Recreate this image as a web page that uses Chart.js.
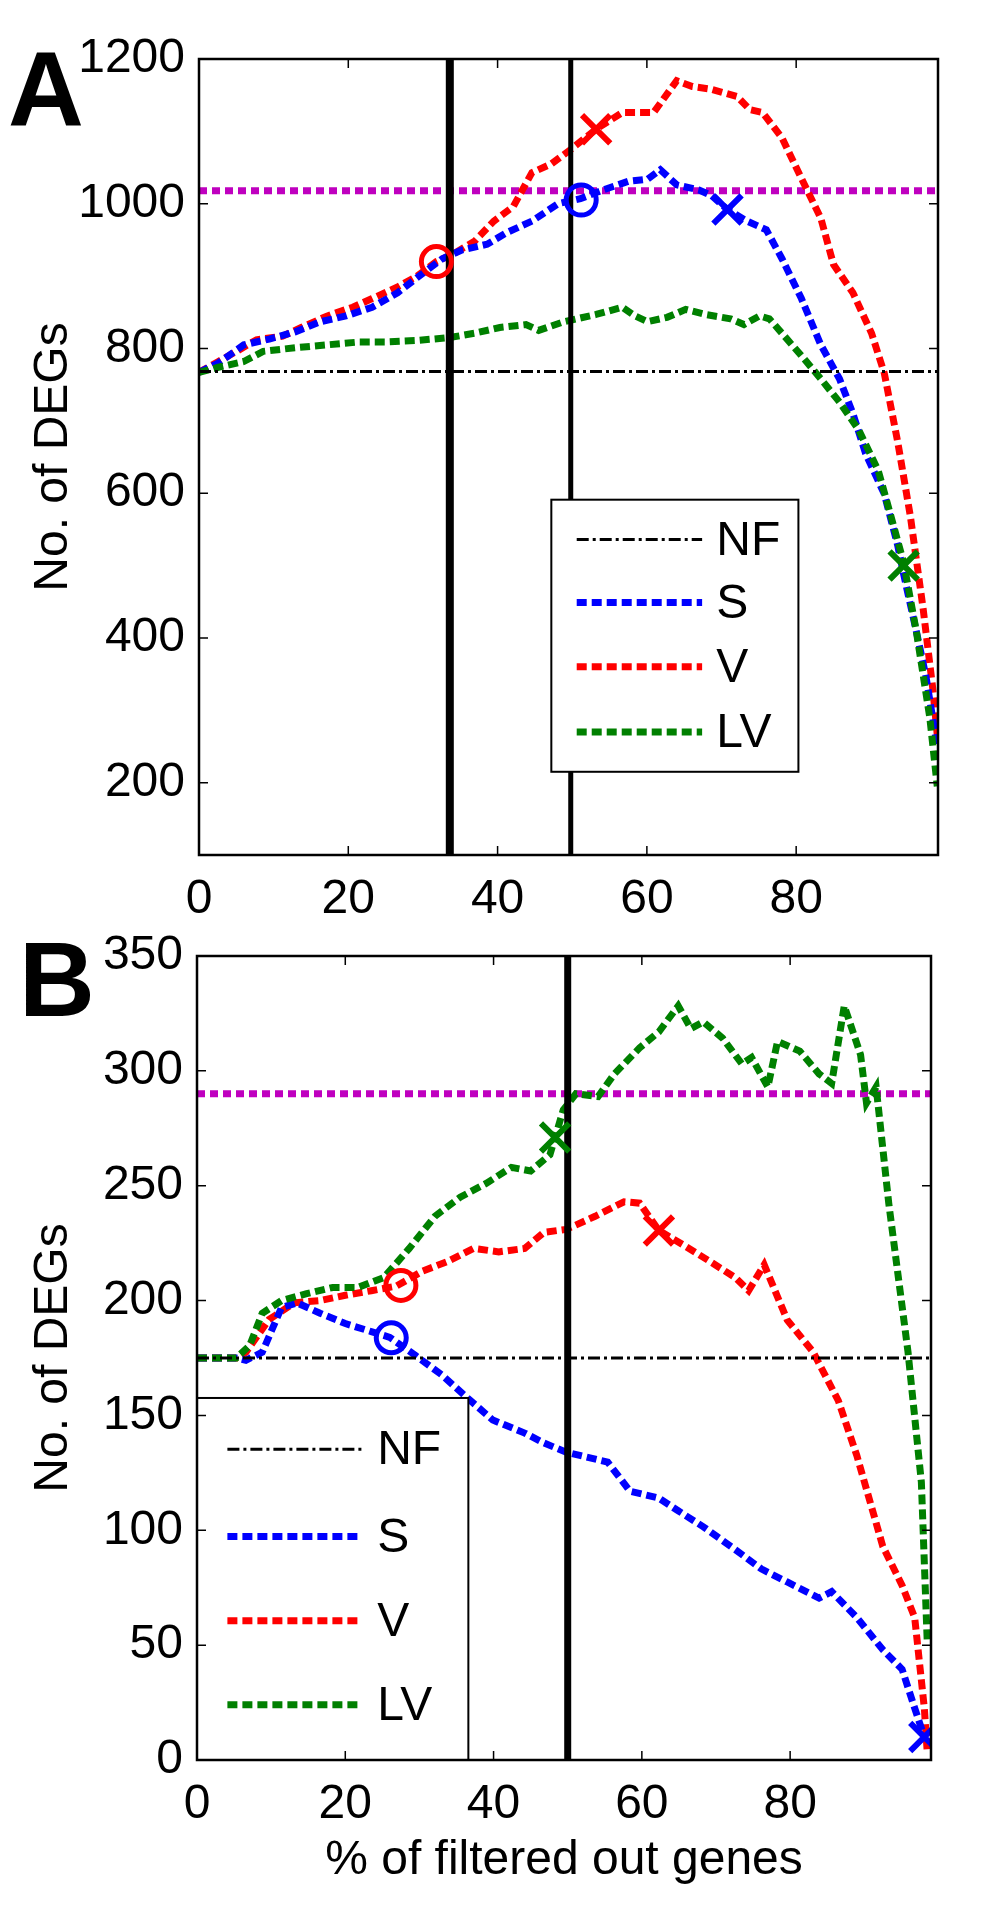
<!DOCTYPE html>
<html>
<head>
<meta charset="utf-8">
<script src="https://cdn.jsdelivr.net/npm/chart.js@4.4.1/dist/chart.umd.min.js"></script>
<style>
body { margin: 0; background: #fff; }
#wrap { position: relative; width: 1004px; height: 1912px; }
canvas { position: absolute; left: 0; }
</style>
</head>
<body>
<div id="wrap">
  <canvas id="chartA" width="1004" height="940" style="top:0px"></canvas>
  <canvas id="chartB" width="1004" height="1012" style="top:900px"></canvas>
</div>
<script>
// ---- data ----
const xTickValues = [0, 20, 40, 60, 80];
const aYTickValues = [200, 400, 600, 800, 1000, 1200];
const bYTickValues = [0, 50, 100, 150, 200, 250, 300, 350];
const seriesLabels = ["NF", "S", "V", "LV"];

// panel A
const aNF = 768;
const aThreshold = 1018;
const aCutoffs = [33.6, 49.8];
const aS = [[0,767],[2.6,780],[6,805],[9.4,813],[12.9,823],[16.3,837],[19.7,845],[23.2,857],[26.6,877],[30,904],[32.6,924],[35.2,936],[38.6,944],[41.2,960],[44.6,976],[48.1,1000],[51.1,1007],[54.1,1019],[57.5,1031],[60.1,1034],[61.8,1047],[64,1026],[67,1019],[68.7,1011],[70.8,992],[73.4,976],[76,964],[78.1,924],[80.7,869],[83.3,805],[85.8,758],[87.6,710],[89.3,655],[91.8,599],[93.6,528],[94.4,488],[96.1,409],[97.4,346],[98.9,250]];
const aV = [[0,767],[2.6,782],[5.2,797],[7.7,812],[11.2,817],[13.7,829],[17.2,845],[20.6,857],[23.2,869],[26.6,885],[29.2,900],[31.8,920],[34.3,932],[36.9,948],[39.5,976],[42.1,996],[44.6,1043],[47.2,1055],[49.8,1075],[53.2,1103],[56.7,1126],[59.2,1126],[60.9,1126],[64,1170],[66.1,1162],[68.7,1158],[72.1,1148],[73.8,1130],[75.5,1126],[78.1,1091],[80.7,1035],[83.3,980],[85,916],[87.6,877],[90.1,821],[91.8,766],[93.6,671],[95.3,568],[97,441],[98.3,330],[98.9,266]];
const aLV = [[0,767],[2.6,774],[6,782],[8.6,796],[12.9,801],[17.2,805],[21.5,809],[24.9,809],[29.2,811],[33.5,815],[36.9,821],[40.3,829],[43.8,833],[45.5,825],[48.9,837],[53.2,847],[56.7,857],[58.4,845],[60.1,837],[62.7,843],[65.2,854],[67.8,847],[71.2,841],[73,833],[75.1,845],[76.4,841],[78.1,821],[80.7,790],[83.3,758],[85.8,726],[88.4,687],[91,631],[92.7,568],[94.4,504],[96.1,409],[97.9,290],[98.9,195]];
const aCircles = { S: [51.2, 1005], V: [31.8, 920] };
const aCrosses = { S: [70.8, 992], V: [53.2, 1103], LV: [94.4, 500] };

// panel B
const bNF = 175;
const bThreshold = 290;
const bCutoffs = [50];
const bS = [[0,175],[5.3,175],[6.6,174],[8.8,177.5],[11.4,197],[13.5,199],[16.6,194.5],[20,190],[23.5,186.5],[26,184],[29.5,176],[33,167.7],[36.4,157.8],[39.9,148],[44.2,142.3],[46.8,138],[49.8,134],[55.4,129.7],[58.4,117],[62.3,114],[64.9,108.5],[68.3,101.5],[72.6,91.6],[76.1,83.2],[79.6,77.5],[83.9,70.5],[85.6,73.3],[89,62],[92.5,48],[95.1,39.5],[96.8,22.6],[98.1,10]];
const bV = [[0,175],[5.3,175],[6.6,177.5],[9.7,191.7],[13.1,199],[16.6,200],[20,202.3],[23.5,204.3],[26.9,206.3],[30.4,212.8],[33.8,217],[37.3,222.7],[40.7,221.2],[44.2,222.7],[46.8,229.7],[49.8,231],[53.7,236.7],[57.6,243],[59.7,242.4],[62.3,230.5],[65.7,224],[69.2,217],[72.6,210],[74.4,204.3],[76.5,215.6],[79.6,191.6],[83.1,177.6],[86.5,156.4],[89,132.5],[92.5,93],[95.1,76],[96.8,62],[98.1,22.6],[98.5,3]];
const bLV = [[0,175],[5.3,175],[7.1,180.4],[8.8,194.5],[11.4,200],[14.8,203],[18.3,205.7],[21.7,205.7],[25.2,210],[28.6,222.6],[32.1,236.7],[35.5,245],[39,251],[42.4,258],[45,256.4],[47.6,263.5],[49.4,283],[51.1,290],[54.1,288.8],[56.3,298.7],[59.7,310],[62.3,317],[64.9,328.3],[66.6,318.4],[68.3,321.3],[70.9,314.2],[73.5,303],[74.8,305.8],[77,293],[78.3,312.8],[81.3,308.6],[83.9,298.7],[85.6,294.5],[87.3,328.3],[89.5,307],[90.3,286],[91.6,293],[93.3,242.4],[95.9,177.6],[97.7,121],[98.5,50.8]];
const bCircles = { S: [26.2, 183.8], V: [27.5, 206.6] };
const bCrosses = { S: [98.1, 10], V: [62.3, 230.5], LV: [48.3, 271] };

// ---- styles ----
const FONT = "'Liberation Sans', Arial, sans-serif";
const styles = {
  NF: { color: "#000000", width: 3, dash: [12, 4, 3, 4] },
  S:  { color: "#0000ff", width: 7, dash: [10, 5] },
  V:  { color: "#ff0000", width: 7, dash: [10, 5] },
  LV: { color: "#008000", width: 7, dash: [10, 5] }
};
const magenta = "#bf00bf";
const X_MAX = 99;

function pts(arr) { return arr.map(p => ({ x: p[0], y: p[1] })); }

function lineDs(data, st, order) {
  return { type: "line", data: pts(data), borderColor: st.color, borderWidth: st.width,
           borderDash: st.dash, pointRadius: 0, fill: false, tension: 0, order: order };
}

function markerDs(p, color, shape, order) {
  const circ = shape === "circle";
  return { type: "scatter", data: [{ x: p[0], y: p[1] }], showLine: false,
           pointStyle: shape, pointRadius: circ ? 15 : 20,
           pointBorderWidth: circ ? 5 : 6, pointBorderColor: color,
           pointBackgroundColor: "rgba(0,0,0,0)", order: order };
}

function buildDatasets(nf, thr, cuts, s, v, lv, circles, crosses) {
  const ds = [];
  Object.keys(circles).forEach(k => ds.push(markerDs(circles[k], styles[k].color, "circle", 0)));
  Object.keys(crosses).forEach(k => ds.push(markerDs(crosses[k], styles[k].color, "crossRot", 0)));
  cuts.forEach((c, i) => ds.push({ type: "line", data: [{ x: c, y: -1e4 }, { x: c, y: 1e4 }],
    borderColor: "#000", borderWidth: cuts.length > 1 ? (i === 0 ? 8 : 5) : 7, pointRadius: 0, order: 1 }));
  ds.push(lineDs(lv, styles.LV, 2));
  ds.push(lineDs(s, styles.S, 3));
  ds.push(lineDs(v, styles.V, 4));
  ds.push({ type: "line", data: [{ x: 0, y: nf }, { x: X_MAX, y: nf }], borderColor: styles.NF.color,
            borderWidth: styles.NF.width, borderDash: styles.NF.dash, pointRadius: 0, order: 1 });
  ds.push({ type: "line", data: [{ x: 0, y: thr }, { x: X_MAX, y: thr }], borderColor: magenta,
            borderWidth: 7, borderDash: [8, 5], pointRadius: 0, order: 5 });
  return ds;
}

// frame, inward ticks, in-plot legend and panel letter
const framePlugin = {
  id: "frame",
  afterDatasetsDraw(chart, args, o) {
    const { ctx, scales: { x, y } } = chart;
    const lg = o.legend;
    const x0 = x.getPixelForValue(lg.x0), x1 = x.getPixelForValue(lg.x1);
    const y0 = y.getPixelForValue(lg.y0), y1 = y.getPixelForValue(lg.y1);
    ctx.save();
    ctx.fillStyle = "#fff";
    ctx.fillRect(x0, y0, x1 - x0, y1 - y0);
    ctx.strokeStyle = "#000";
    ctx.lineWidth = 2;
    ctx.strokeRect(x0, y0, x1 - x0, y1 - y0);
    seriesLabels.forEach((lab, i) => {
      const st = styles[lab];
      const yy = y.getPixelForValue(lg.rows[i]);
      ctx.beginPath();
      ctx.setLineDash(st.dash);
      ctx.strokeStyle = st.color;
      ctx.lineWidth = st.width;
      ctx.moveTo(x.getPixelForValue(lg.s0), yy);
      ctx.lineTo(x.getPixelForValue(lg.s1), yy);
      ctx.stroke();
      ctx.setLineDash([]);
      ctx.fillStyle = "#000";
      ctx.font = "48px " + FONT;
      ctx.textAlign = "left";
      ctx.textBaseline = "middle";
      ctx.fillText(lab, x.getPixelForValue(lg.tx), yy + 2);
    });
    ctx.restore();
  },
  afterDraw(chart, args, o) {
    const { ctx, chartArea: a, scales: { x, y } } = chart;
    ctx.save();
    ctx.strokeStyle = "#000";
    ctx.lineWidth = 1.5;
    const tl = 9;
    ctx.beginPath();
    x.ticks.forEach(t => {
      const px = x.getPixelForValue(t.value);
      ctx.moveTo(px, a.bottom); ctx.lineTo(px, a.bottom - tl);
      ctx.moveTo(px, a.top); ctx.lineTo(px, a.top + tl);
    });
    y.ticks.forEach(t => {
      const py = y.getPixelForValue(t.value);
      ctx.moveTo(a.left, py); ctx.lineTo(a.left + tl, py);
      ctx.moveTo(a.right, py); ctx.lineTo(a.right - tl, py);
    });
    ctx.stroke();
    ctx.lineWidth = 2.5;
    ctx.strokeRect(a.left, a.top, a.right - a.left, a.bottom - a.top);
    ctx.fillStyle = "#000";
    ctx.font = "bold 105px " + FONT;
    ctx.textAlign = "left";
    ctx.textBaseline = "alphabetic";
    ctx.fillText(o.letter.text, o.letter.x, o.letter.y);
    ctx.restore();
  }
};

function makeChart(id, cfg) {
  const tickFont = { family: FONT, size: 48 };
  return new Chart(document.getElementById(id), {
    type: "line",
    data: { datasets: cfg.datasets },
    options: {
      responsive: false,
      animation: false,
      events: [],
      layout: { padding: { left: 0, right: cfg.padRight, top: cfg.padTop, bottom: 0 } },
      plugins: {
        legend: { display: false },
        tooltip: { enabled: false },
        frame: { legend: cfg.legend, letter: cfg.letter }
      },
      scales: {
        x: {
          type: "linear", min: 0, max: X_MAX,
          afterBuildTicks: s => { s.ticks = xTickValues.map(v => ({ value: v })); },
          afterFit: s => { s.height = cfg.xHeight; },
          grid: { display: false, drawTicks: false },
          border: { display: false },
          ticks: { font: tickFont, color: "#000", padding: 16, maxRotation: 0, autoSkip: false,
                   callback: v => String(v) },
          title: { display: !!cfg.xTitle, text: cfg.xTitle || "", color: "#000",
                   font: tickFont, padding: { top: 0, bottom: 22 } }
        },
        y: {
          type: "linear", min: cfg.yMin, max: cfg.yMax,
          afterBuildTicks: s => { s.ticks = cfg.yTicks.map(v => ({ value: v })); },
          afterFit: s => { s.width = cfg.yWidth; },
          grid: { display: false, drawTicks: false },
          border: { display: false },
          ticks: { font: tickFont, color: "#000", padding: 14, autoSkip: false,
                   callback: v => String(v) },
          title: { display: true, text: "No. of DEGs", color: "#000", font: tickFont,
                   padding: { top: 25, bottom: 0 } }
        }
      }
    },
    plugins: [framePlugin]
  });
}

makeChart("chartA", {
  datasets: buildDatasets(aNF, aThreshold, aCutoffs, aS, aV, aLV, aCircles, aCrosses),
  yMin: 100, yMax: 1200, yTicks: aYTickValues,
  yWidth: 199, padRight: 66, padTop: 59, xHeight: 940 - 855,
  legend: { x0: 47.2, x1: 80.3, y0: 591, y1: 215, rows: [536, 449, 360, 270], s0: 50.6, s1: 67.4, tx: 69.3 },
  letter: { text: "A", x: 8, y: 126 }
});

makeChart("chartB", {
  datasets: buildDatasets(bNF, bThreshold, bCutoffs, bS, bV, bLV, bCircles, bCrosses),
  yMin: 0, yMax: 350, yTicks: bYTickValues,
  yWidth: 197, padRight: 73, padTop: 56, xHeight: 1012 - 860,
  xTitle: "% of filtered out genes",
  legend: { x0: 0, x1: 36.6, y0: 157.6, y1: 0, rows: [135.3, 97.3, 60.6, 24], s0: 4.1, s1: 22.2, tx: 24.3 },
  letter: { text: "B", x: 19, y: 116 }
});
</script>
</body>
</html>
